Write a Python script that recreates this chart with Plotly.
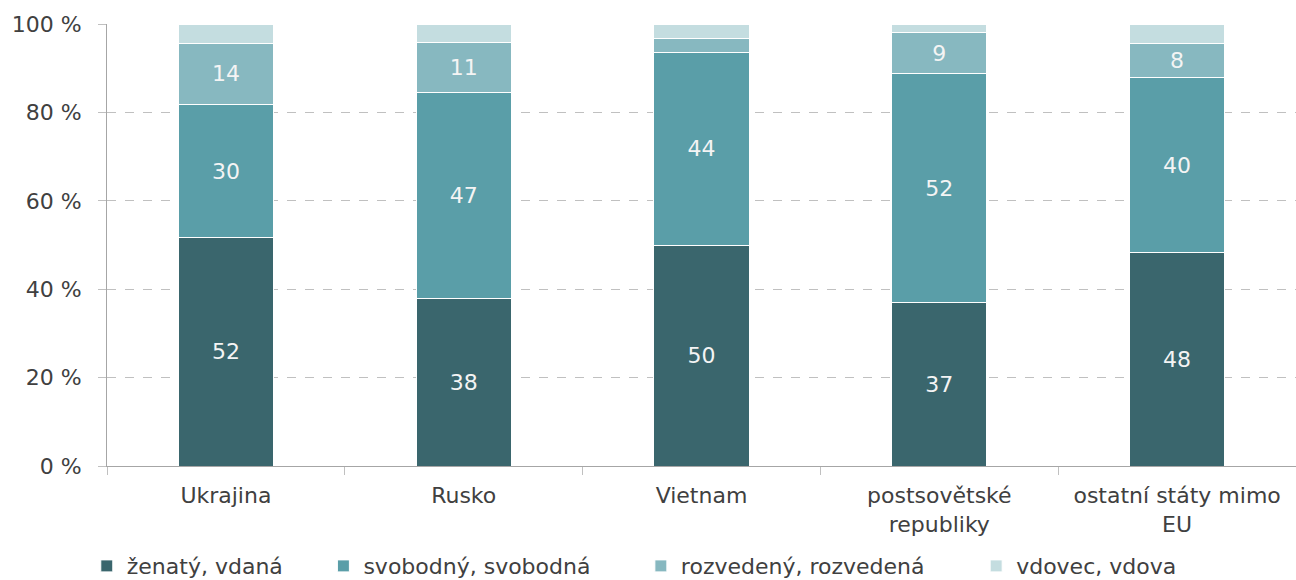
import plotly.graph_objects as go

categories = ["Ukrajina", "Rusko", "Vietnam", "postsovětské<br>republiky", "ostatní státy mimo<br>EU"]
series_names = ["ženatý, vdaná", "svobodný, svobodná", "rozvedený, rozvedená", "vdovec, vdova"]
zenaty = [51.7, 38.0, 50.0, 36.9, 48.2]
svobodny = [30.0, 46.6, 43.6, 51.8, 39.8]
rozvedeny = [14.0, 11.2, 3.1, 9.3, 7.6]
vdovec = [4.3, 4.2, 3.3, 2.0, 4.4]
label_zenaty = ["52", "38", "50", "37", "48"]
label_svobodny = ["30", "47", "44", "52", "40"]
label_rozvedeny = ["14", "11", "", "9", "8"]
label_vdovec = ["", "", "", "", ""]

colors = ["#3a666d", "#5a9ea8", "#87b8c0", "#c4dde0"]
series = [zenaty, svobodny, rozvedeny, vdovec]
labels = [label_zenaty, label_svobodny, label_rozvedeny, label_vdovec]
legend_ids = ["legend", "legend2", "legend3", "legend4"]
legend_x = [-0.017, 0.182, 0.449, 0.731]

FONT = "DejaVu Sans"
TXT = "#404040"
fig = go.Figure()
for name, vals, txt, col, lid in zip(series_names, series, labels, colors, legend_ids):
    fig.add_trace(go.Bar(
        name=name, x=categories, y=vals, text=txt, legend=lid,
        texttemplate="%{text}", textposition="inside", insidetextanchor="middle",
        textangle=0, constraintext="none",
        textfont=dict(family=FONT, size=22, color="#f4f4f4"),
        marker=dict(color=col, line=dict(color="#ffffff", width=1)),
        hoverinfo="skip",
    ))

layout_legends = {}
for lid, lx in zip(legend_ids, legend_x):
    layout_legends[lid] = dict(orientation="h", x=lx, xanchor="left",
                               yref="container", y=0.024, yanchor="middle",
                               font=dict(family=FONT, size=22, color=TXT),
                               itemwidth=30, bgcolor="rgba(0,0,0,0)")

fig.update_layout(
    barmode="stack", bargap=0.6,
    width=1296, height=580,
    margin=dict(l=107, r=0, t=24, b=114, autoexpand=False),
    plot_bgcolor="white", paper_bgcolor="white",
    font=dict(family=FONT, size=22, color=TXT),
    showlegend=True,
    **layout_legends,
)
fig.update_yaxes(range=[0, 100], dtick=20, ticksuffix=" %",
                 showgrid=True, gridcolor="#c0c0c0", griddash="dash", gridwidth=1,
                 showline=True, linecolor="#a6a6a6", linewidth=1,
                 ticks="outside", ticklen=8, tickcolor="#c0c0c0",
                 ticklabelstandoff=12,
                 tickfont=dict(family=FONT, size=22, color=TXT),
                 zeroline=False, automargin=False)
fig.update_xaxes(showline=True, linecolor="#a6a6a6", linewidth=1,
                 ticks="outside", tickson="boundaries", ticklen=8, tickcolor="#c0c0c0",
                 ticklabelstandoff=10,
                 tickfont=dict(family=FONT, size=22, color=TXT), automargin=False)

fig.write_html("out.html")
